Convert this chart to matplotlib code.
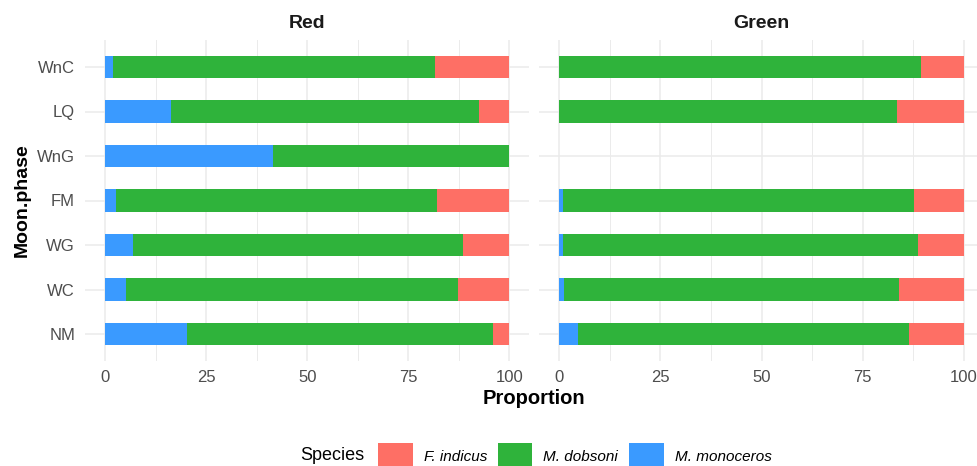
import numpy as np
import matplotlib
matplotlib.use("Agg")
import matplotlib.pyplot as plt
from matplotlib.patches import Patch

plt.rcParams["font.family"] = ["Liberation Sans", "DejaVu Sans"]

# Moon phases, bottom to top
phases = ["NM", "WC", "WG", "FM", "WnG", "LQ", "WnC"]
species = ["F. indicus", "M. dobsoni", "M. monoceros"]

# Proportions (%) per light colour
red_monoceros = [20.3, 5.2, 6.8, 2.7, 41.6, 16.4, 1.9]
red_dobsoni = [75.7, 82.0, 81.7, 79.5, 58.4, 76.1, 79.7]
red_indicus = [4.0, 12.8, 11.5, 17.8, 0.0, 7.5, 18.4]

green_monoceros = [4.5, 1.2, 0.9, 0.8, 0.0, 0.0, 0.0]
green_dobsoni = [82.0, 82.7, 87.7, 87.0, 0.0, 83.4, 89.4]
green_indicus = [13.5, 16.1, 11.4, 12.2, 0.0, 16.6, 10.6]

colors = {"F. indicus": "#FE6F65", "M. dobsoni": "#2FB33B", "M. monoceros": "#3A9AFF"}

W, H = 978, 466
fig = plt.figure(figsize=(W / 100, H / 100), dpi=100)

def fx(px):
    return px / W

def fy(py):
    return 1 - py / H

panel_top, panel_bot = 40.3, 360.7
axL = fig.add_axes([fx(84.8), fy(panel_bot), fx(529.5 - 84.8), (panel_bot - panel_top) / H])
axR = fig.add_axes([fx(539.1), fy(panel_bot), fx(983.9 - 539.1), (panel_bot - panel_top) / H])

panels = [
    (axL, "Red", red_monoceros, red_dobsoni, red_indicus),
    (axR, "Green", green_monoceros, green_dobsoni, green_indicus),
]

y = np.arange(len(phases))
for ax, title, mono, dob, ind in panels:
    mono = np.array(mono)
    dob = np.array(dob)
    ind = np.array(ind)
    ax.barh(y, mono, height=0.5, color=colors["M. monoceros"], linewidth=0, zorder=3)
    ax.barh(y, dob, left=mono, height=0.5, color=colors["M. dobsoni"], linewidth=0, zorder=3)
    ax.barh(y, ind, left=mono + dob, height=0.5, color=colors["F. indicus"], linewidth=0, zorder=3)
    ax.set_xlim(-5, 105)
    ax.set_ylim(-0.6, len(phases) - 0.4)
    ax.set_xticks([0, 25, 50, 75, 100])
    ax.set_xticks([12.5, 37.5, 62.5, 87.5], minor=True)
    ax.set_yticks(y)
    ax.grid(True, which="major", color="#EBEBEB", linewidth=1.1, zorder=0)
    ax.grid(True, which="minor", axis="x", color="#EBEBEB", linewidth=0.7, zorder=0)
    ax.set_axisbelow(True)
    for s in ax.spines.values():
        s.set_visible(False)
    ax.tick_params(axis="both", which="both", length=0, labelsize=12, labelcolor="#4D4D4D")
    ax.tick_params(axis="x", pad=6.5)
    ax.tick_params(axis="y", pad=7)
    ax.set_facecolor("white")
    pos = ax.get_position()
    fig.text(pos.x0 + pos.width / 2, fy(24), title, ha="center", va="center",
             fontsize=14, fontweight="bold", color="#1A1A1A")

axL.set_yticklabels(phases)
axR.set_yticklabels([])

fig.text(fx(22), fy(200), "Moon.phase", rotation=90, ha="center", va="center",
         fontsize=14, fontweight="bold", color="black")
fig.text(fx(534), fy(398), "Proportion", ha="center", va="center",
         fontsize=14.5, fontweight="bold", color="black")

# Legend
fig.text(fx(300), fy(456), "Species", ha="left", va="center", fontsize=13, color="black")
handles = [Patch(facecolor=colors[s], edgecolor="none", label=s) for s in species]
leg = fig.legend(handles=handles, ncol=3, loc="center left",
                 bbox_to_anchor=(fx(378), fy(456)), frameon=False,
                 prop={"style": "italic", "size": 11},
                 handlelength=2.26, handleheight=2.2, handletextpad=0.72,
                 columnspacing=0.72, borderpad=0, borderaxespad=0)

fig.savefig("out.png", dpi=100)
